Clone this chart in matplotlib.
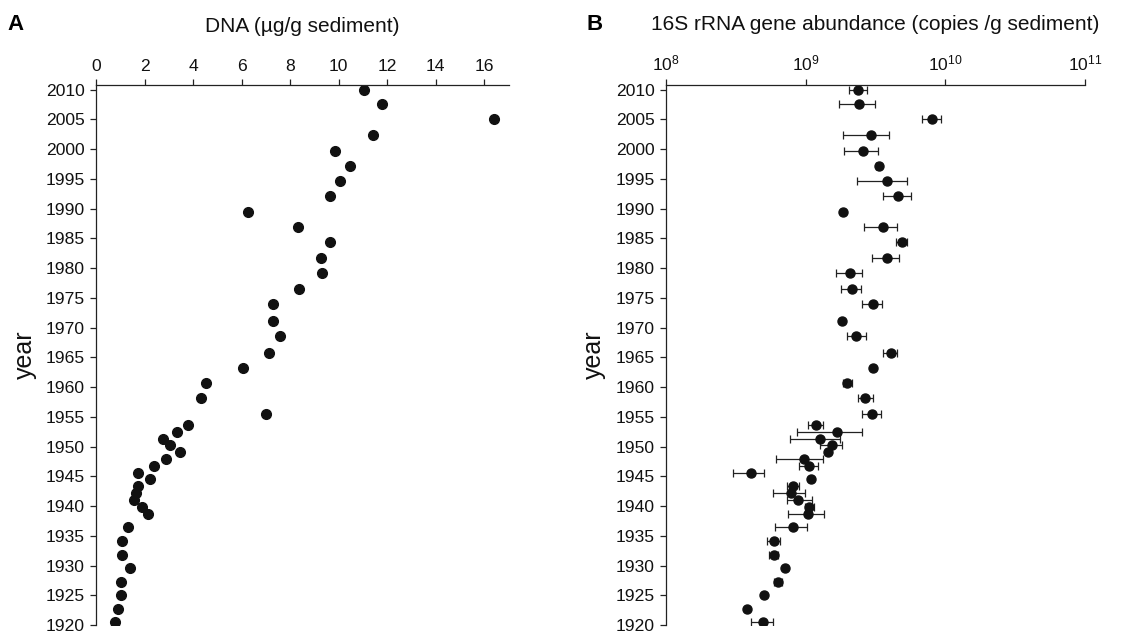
import numpy as np
import matplotlib.pyplot as plt
from matplotlib.ticker import LogLocator, NullLocator, LogFormatterMathtext

plt.rcParams['font.family'] = ['Liberation Sans', 'DejaVu Sans']

# sample years (depth-dated), shared by both panels
years = [2010.0, 2007.5, 2005.0, 2002.4, 1999.7, 1997.2, 1994.6, 1992.1, 1989.5, 1986.9,
         1984.4, 1981.7, 1979.1, 1976.4, 1973.9, 1971.1, 1968.5, 1965.8, 1963.2, 1960.6,
         1958.1, 1955.5, 1953.6, 1952.5, 1951.3, 1950.2, 1949.0, 1947.9, 1946.7, 1945.6,
         1944.5, 1943.4, 1942.2, 1941.0, 1939.9, 1938.7, 1936.5, 1934.2, 1931.8, 1929.6,
         1927.2, 1925.0, 1922.7, 1920.5]

# panel A: DNA (ug/g sediment)
dna = [11.03, 11.77, 16.40, 11.43, 9.83, 10.46, 10.06, 9.66, 6.27, 8.31,
       9.66, 9.27, 9.33, 8.38, 7.31, 7.31, 7.57, 7.12, 6.06, 4.54,
       4.32, 7.02, 3.79, 3.35, 2.78, 3.06, 3.46, 2.87, 2.38, 1.71,
       2.22, 1.72, 1.65, 1.57, 1.89, 2.16, 1.31, 1.07, 1.07, 1.38,
       1.05, 1.03, 0.89, 0.78]

# panel B: 16S rRNA gene copies /g sediment, with low / high ends of error bars
copies = [2.38e9, 2.42e9, 8.04e9, 2.92e9, 2.58e9, 3.34e9, 3.81e9, 4.61e9, 1.85e9, 3.55e9,
          4.88e9, 3.81e9, 2.08e9, 2.13e9, 3.01e9, 1.82e9, 2.30e9, 4.05e9, 3.03e9, 1.98e9,
          2.67e9, 2.96e9, 1.19e9, 1.67e9, 1.26e9, 1.55e9, 1.44e9, 9.71e8, 1.06e9, 4.06e8,
          1.10e9, 8.09e8, 7.80e8, 8.79e8, 1.06e9, 1.04e9, 8.15e8, 5.89e8, 5.89e8, 7.13e8,
          6.32e8, 5.00e8, 3.79e8, 4.94e8]
copies_lo = [2.03e9, 1.73e9, 6.82e9, 1.85e9, 1.87e9, 3.20e9, 2.33e9, 3.59e9, 1.80e9, 2.61e9,
             4.44e9, 2.96e9, 1.66e9, 1.78e9, 2.54e9, 1.78e9, 1.97e9, 3.59e9, 2.95e9, 1.85e9,
             2.38e9, 2.52e9, 1.04e9, 8.69e8, 7.74e8, 1.26e9, 1.40e9, 6.12e8, 8.89e8, 3.00e8,
             1.07e9, 7.29e8, 5.86e8, 7.29e8, 9.86e8, 7.50e8, 5.98e8, 5.27e8, 5.46e8, 6.95e8,
             5.96e8, 4.88e8, 3.70e8, 4.04e8]
copies_hi = [2.73e9, 3.11e9, 9.33e9, 3.98e9, 3.28e9, 3.48e9, 5.30e9, 5.69e9, 1.90e9, 4.54e9,
             5.32e9, 4.69e9, 2.51e9, 2.47e9, 3.49e9, 1.86e9, 2.68e9, 4.49e9, 3.11e9, 2.14e9,
             3.01e9, 3.45e9, 1.33e9, 2.51e9, 1.77e9, 1.82e9, 1.48e9, 1.32e9, 1.22e9, 5.05e8,
             1.13e9, 8.93e8, 9.86e8, 1.11e9, 1.15e9, 1.35e9, 1.03e9, 6.53e8, 6.32e8, 7.31e8,
             6.73e8, 5.12e8, 3.88e8, 5.82e8]

year_ticks = list(range(1920, 2011, 5))
dot = '#111111'
axcol = '#222222'

fig = plt.figure(figsize=(11.43, 6.34), dpi=100)
axA = fig.add_axes([0.084, 0.0142, 0.361, 0.852])
axB = fig.add_axes([0.5827, 0.0142, 0.3666, 0.852])


def style_axis(ax, ylab_x):
    for s in ['right', 'bottom']:
        ax.spines[s].set_visible(False)
    for s in ['top', 'left']:
        ax.spines[s].set_color(axcol)
        ax.spines[s].set_linewidth(0.9)
    ax.xaxis.set_ticks_position('top')
    ax.xaxis.set_label_position('top')
    ax.tick_params(axis='both', direction='out', length=4, width=0.9, color=axcol,
                   labelsize=12.6, labelcolor='#111111', pad=4)
    ax.set_ylim(1920, 2010.8)
    ax.set_yticks(year_ticks)
    ax.set_ylabel('year', fontsize=18, color='#111111')
    ax.yaxis.set_label_coords(ylab_x, 0.5)


# panel A
axA.plot(dna, years, 'o', color=dot, markersize=7, linestyle='none')
style_axis(axA, -0.143)
axA.set_xlim(0, 17)
axA.set_xticks(range(0, 17, 2))
axA.set_xlabel('DNA (µg/g sediment)', fontsize=15, color='#111111', labelpad=19)

# panel B
c = np.array(copies)
xerr = [c - np.array(copies_lo), np.array(copies_hi) - c]
axB.errorbar(copies, years, xerr=xerr, fmt='o', color=dot, ecolor='#222222',
             markersize=6.5, elinewidth=0.9, capsize=2.6, capthick=0.9)
style_axis(axB, -0.143)
axB.set_xscale('log')
axB.set_xlim(1e8, 1e11)
axB.xaxis.set_major_locator(LogLocator(base=10, numticks=5))
axB.xaxis.set_major_formatter(LogFormatterMathtext())
axB.xaxis.set_minor_locator(NullLocator())
axB.set_xlabel('16S rRNA gene abundance (copies /g sediment)', fontsize=15,
               color='#111111', labelpad=17)

fig.text(16 / 1143, 1 - 25 / 634, 'A', fontsize=16, fontweight='bold', ha='center', va='center')
fig.text(595 / 1143, 1 - 24 / 634, 'B', fontsize=16, fontweight='bold', ha='center', va='center')

fig.savefig('out.png', dpi=100)
